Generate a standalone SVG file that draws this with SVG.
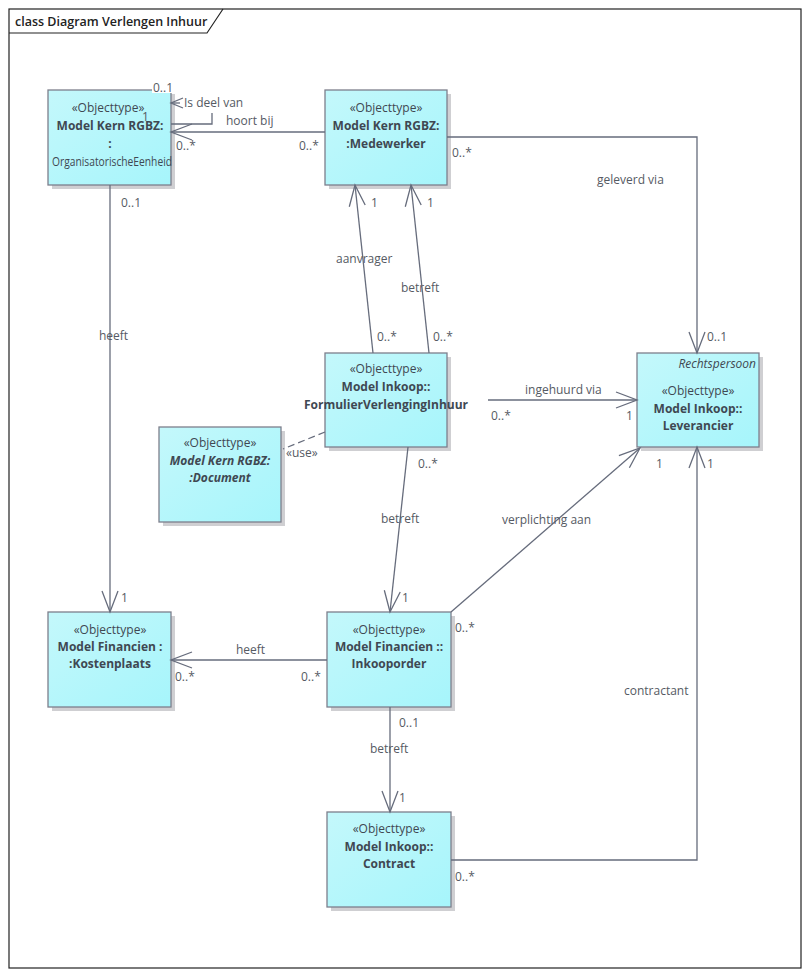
<svg xmlns="http://www.w3.org/2000/svg" width="808" height="977" viewBox="0 0 808 977">
<defs>
<linearGradient id="fill" x1="0" y1="0" x2="1" y2="1">
<stop offset="0" stop-color="#c4f8fb"/>
<stop offset="1" stop-color="#a6f5fb"/>
</linearGradient>
<marker id="arr" markerUnits="userSpaceOnUse" markerWidth="30" markerHeight="20" viewBox="-24 -10 26 20" refX="0" refY="0" orient="auto">
<path d="M-21,-8 L0,0 L-21,8" fill="none" stroke="#666c7c" stroke-width="1.3"/>
</marker>
<marker id="arrs" markerUnits="userSpaceOnUse" markerWidth="16" markerHeight="14" viewBox="-14 -7 16 14" refX="0" refY="0" orient="auto">
<path d="M-12,-5 L0,0 L-12,5" fill="none" stroke="#666c7c" stroke-width="1.3"/>
</marker>
</defs>
<style>
.box{fill:url(#fill);stroke:#7d7f8c;stroke-width:1.3}
.sh{fill:#cfcfd2}
.t{font-family:"Open Sans","Noto Sans",sans-serif;font-size:12px;fill:#3f4852;text-anchor:middle}
.b{font-weight:bold}
.i{font-style:italic}
.c{fill:none;stroke:#666c7c;stroke-width:1.3}
.l{font-family:"Open Sans","Noto Sans",sans-serif;font-size:12px;fill:#555a63}
</style>
<rect x="0" y="0" width="808" height="977" fill="#ffffff"/>
<g id="frame">
<rect x="9" y="9" width="792" height="959" fill="none" stroke="#222" stroke-width="1.2"/>
<path d="M9,33 H207 L223,9" fill="none" stroke="#222" stroke-width="1.2"/>
<text x="15" y="26" font-family="Open Sans, Noto Sans, sans-serif" font-size="12.5" font-weight="600" fill="#222">class Diagram Verlengen Inhuur</text>
</g>
<g id="organisatorischeEenheid">
<rect class="sh" x="52" y="94" width="123" height="95"/>
<rect class="box" x="48" y="90" width="123" height="95"/>
<text class="t" x="108" y="112">«Objecttype»</text>
<text class="t b" x="110" y="130">Model Kern RGBZ:</text>
<text class="t b" x="110" y="148">:</text>
<text class="t" x="112" y="166" style="font-size:12.5px" textLength="120" lengthAdjust="spacingAndGlyphs">OrganisatorischeEenheid</text>
</g>
<g id="medewerker">
<rect class="sh" x="329" y="94" width="122" height="95"/>
<rect class="box" x="325" y="90" width="122" height="95"/>
<text class="t" x="386" y="112">«Objecttype»</text>
<text class="t b" x="386" y="130">Model Kern RGBZ:</text>
<text class="t b" x="386" y="148">:Medewerker</text>
</g>
<g id="formulierVerlengingInhuur">
<rect class="sh" x="329" y="357" width="122" height="94"/>
<rect class="box" x="325" y="353" width="122" height="94"/>
<text class="t" x="386" y="373">«Objecttype»</text>
<text class="t b" x="386" y="391">Model Inkoop::</text>
<text class="t b" x="386" y="409">FormulierVerlengingInhuur</text>
</g>
<g id="document">
<rect class="sh" x="163" y="431" width="122" height="95"/>
<rect class="box" x="159" y="427" width="122" height="95"/>
<text class="t" x="220" y="447">«Objecttype»</text>
<text class="t b i" x="220" y="465">Model Kern RGBZ:</text>
<text class="t b i" x="220" y="482">:Document</text>
</g>
<g id="leverancier">
<rect class="sh" x="641" y="357" width="122" height="94"/>
<rect class="box" x="637" y="353" width="122" height="94"/>
<text class="t i" x="756" y="368" style="text-anchor:end">Rechtspersoon</text>
<text class="t" x="698" y="395">«Objecttype»</text>
<text class="t b" x="698" y="413">Model Inkoop::</text>
<text class="t b" x="698" y="430">Leverancier</text>
</g>
<g id="kostenplaats">
<rect class="sh" x="52" y="616" width="123" height="95"/>
<rect class="box" x="48" y="612" width="123" height="95"/>
<text class="t" x="110" y="634">«Objecttype»</text>
<text class="t b" x="110" y="651">Model Financien :</text>
<text class="t b" x="110" y="668">:Kostenplaats</text>
</g>
<g id="inkooporder">
<rect class="sh" x="331" y="616" width="124" height="95"/>
<rect class="box" x="327" y="612" width="124" height="95"/>
<text class="t" x="389" y="634">«Objecttype»</text>
<text class="t b" x="389" y="651">Model Financien ::</text>
<text class="t b" x="389" y="668">Inkooporder</text>
</g>
<g id="contract">
<rect class="sh" x="331" y="816" width="124" height="95"/>
<rect class="box" x="327" y="812" width="124" height="95"/>
<text class="t" x="389" y="833">«Objecttype»</text>
<text class="t b" x="389" y="851">Model Inkoop::</text>
<text class="t b" x="389" y="868">Contract</text>
</g>
<g id="connectors">
<path class="c" d="M325,132 H171" marker-end="url(#arr)"/>
<path class="c" d="M171,124 H212 V113"/>
<path class="c" d="M180,103 H171" marker-end="url(#arrs)"/>
<path class="c" d="M110,185 V612" marker-end="url(#arr)"/>
<path class="c" d="M447,137 H697 V353" marker-end="url(#arr)"/>
<path class="c" d="M373,353 L355,185" marker-end="url(#arr)"/>
<path class="c" d="M429,353 L411,185" marker-end="url(#arr)"/>
<path class="c" d="M488,400 H637" marker-end="url(#arr)"/>
<path class="c" d="M325,432 L283,449" stroke-dasharray="7,4"/>
<path class="c" d="M408,447 L390,612" marker-end="url(#arr)"/>
<path class="c" d="M451,612 L640,448" marker-end="url(#arr)"/>
<path class="c" d="M327,660 H171" marker-end="url(#arr)"/>
<path class="c" d="M390,707 V812" marker-end="url(#arr)"/>
<path class="c" d="M451,860 H697 V447" marker-end="url(#arr)"/>
<rect x="152" y="81" width="26" height="12" fill="#fff"/>
<text class="l" x="153" y="92">0..1</text>
<text class="l" x="142" y="121">1</text>
<text class="l" x="184" y="107">Is deel van</text>
<text class="l" x="226" y="125">hoort bij</text>
<text class="l" x="176" y="150">0..*</text>
<text class="l" x="299" y="150">0..*</text>
<text class="l" x="121" y="207">0..1</text>
<text class="l" x="371" y="207">1</text>
<text class="l" x="427" y="207">1</text>
<text class="l" x="452" y="157">0..*</text>
<text class="l" x="597" y="184">geleverd via</text>
<text class="l" x="707" y="341">0..1</text>
<text class="l" x="99" y="340">heeft</text>
<text class="l" x="121" y="602">1</text>
<text class="l" x="336" y="263">aanvrager</text>
<text class="l" x="401" y="292">betreft</text>
<text class="l" x="377" y="341">0..*</text>
<text class="l" x="433" y="341">0..*</text>
<text class="l" x="525" y="394">ingehuurd via</text>
<text class="l" x="491" y="420">0..*</text>
<text class="l" x="626" y="420">1</text>
<text class="l" x="656" y="468">1</text>
<text class="l" x="707" y="468">1</text>
<text class="l" x="286" y="457">«use»</text>
<text class="l" x="418" y="468">0..*</text>
<text class="l" x="381" y="523">betreft</text>
<text class="l" x="502" y="524">verplichting aan</text>
<text class="l" x="402" y="602">1</text>
<text class="l" x="455" y="632">0..*</text>
<text class="l" x="236" y="654">heeft</text>
<text class="l" x="175" y="681">0..*</text>
<text class="l" x="301" y="681">0..*</text>
<text class="l" x="624" y="695">contractant</text>
<text class="l" x="399" y="727">0..1</text>
<text class="l" x="370" y="753">betreft</text>
<text class="l" x="399" y="802">1</text>
<text class="l" x="455" y="881">0..*</text>
</g>
</svg>
